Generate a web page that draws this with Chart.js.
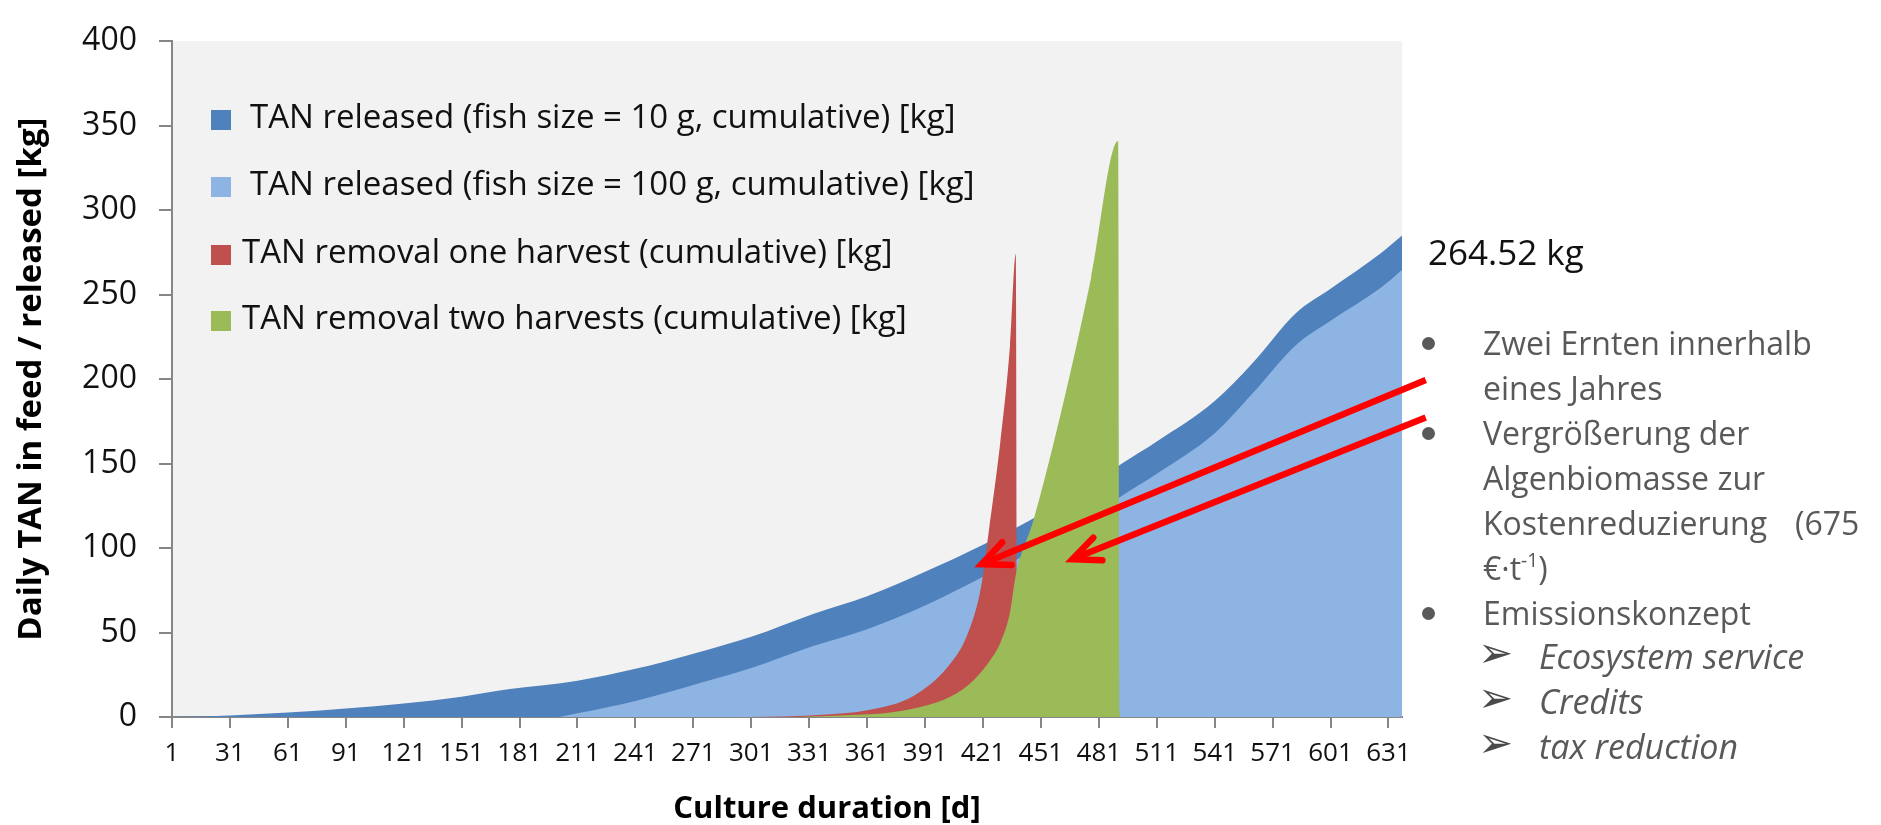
<!DOCTYPE html>
<html>
<head>
<meta charset="utf-8">
<title>TAN released and removed</title>
<script src="https://cdn.jsdelivr.net/npm/chart.js@4.4.1/dist/chart.umd.min.js"></script>
<style>
  html, body { margin: 0; padding: 0; background: #fff; }
  #wrap { position: relative; width: 1881px; height: 825px; overflow: hidden; font-family: 'Open Sans', sans-serif; }
  #chart { position: absolute; left: 0; top: 0; }
  .abs { position: absolute; white-space: pre; line-height: 1; }
  .swatch { position: absolute; width: 20px; height: 20px; }
  .legendText { font-size: 33px; color: #111; }
  .note { font-size: 32px; color: #595959; }
  .noteItalic { font-size: 34px; color: #595959; font-style: italic; }
  .dot { position: absolute; width: 13px; height: 13px; border-radius: 50%; background: #595959; }
  .arrowBullet { font-family: 'DejaVu Sans', sans-serif; font-size: 42px; color: #4a4a4a; }
  sup { font-size: 60%; vertical-align: 0.7em; line-height: 0; }
</style>
</head>
<body>
<div id="wrap">
  <canvas id="chart" width="1881" height="825"></canvas>
</div>
<script>
// Day of culture on the x axis, tick labels every 30 days
const xTickDays = [1, 31, 61, 91, 121, 151, 181, 211, 241, 271, 301, 331, 361, 391, 421, 451, 481, 511, 541, 571, 601, 631];
const lastDay = 638;

// TAN released, fish size = 10 g (cumulative) [kg]
const days10g = [1, 16, 31, 61, 91, 121, 151, 176, 211, 241, 271, 301, 333, 361, 391, 421, 451, 481, 493, 511, 541, 561, 583, 601, 627, 638];
const tan10g  = [0, 0.3, 0.9, 2.6, 5.0, 8.0, 12, 16.5, 21.5, 28.5, 37.5, 47.5, 61, 71.5, 86, 102, 120, 141, 150, 163, 187, 210, 239, 253.5, 274.5, 285];

// TAN released, fish size = 100 g (cumulative) [kg]
const days100g = [1, 199, 205, 213, 241, 271, 301, 333, 361, 391, 421, 451, 481, 493, 511, 541, 561, 583, 601, 627, 638];
const tan100g  = [0, 0, 0.8, 2.6, 9.5, 19, 29, 42, 52, 66, 83, 101, 122, 131, 144, 168, 192, 220, 234.5, 254, 264.52];

// TAN removal with one harvest (cumulative) [kg]
const daysOneHarvest = [300, 318, 340, 361, 385, 403, 413, 420, 424, 430, 435, 438, 439];
const tanOneHarvest  = [0, 0.3, 1.5, 4, 12.5, 30, 49, 77, 110, 163, 220, 274, 0];

// TAN removal with two harvests (cumulative) [kg]
const daysTwoHarvests = [325, 350, 375, 398, 410, 418, 425, 430, 435, 438, 447, 462, 477, 491, 492];
const tanTwoHarvests  = [0, 1, 3, 9, 16, 24, 34, 44, 62, 84, 116, 183, 260, 341, 0];

// Series names and fill colours
const seriesLabels = [
  'TAN released (fish size = 10 g, cumulative) [kg]',
  'TAN released (fish size = 100 g, cumulative) [kg]',
  'TAN removal one harvest (cumulative) [kg]',
  'TAN removal two harvests (cumulative) [kg]'
];
const seriesColors = ['#4F81BD', '#8DB4E2', '#C0504D', '#9BBB59'];

// Callout arrows: [day, kg] at the tail and at the head
const calloutArrows = [
  { from: [650.3, 199.5], to: [420.3, 90.5] },
  { from: [650.3, 177.3], to: [467.3, 93.4] }
];

const toPoints = (xs, ys) => xs.map((x, i) => ({ x: x, y: ys[i] }));

const seriesPoints = [
  toPoints(days10g, tan10g),
  toPoints(days100g, tan100g),
  toPoints(daysOneHarvest, tanOneHarvest),
  toPoints(daysTwoHarvests, tanTwoHarvests)
];

// Later series sit on top of earlier ones
const datasets = seriesPoints.map((pts, i) => ({
  label: seriesLabels[i],
  data: pts,
  backgroundColor: seriesColors[i],
  borderColor: seriesColors[i],
  borderWidth: 0,
  pointRadius: 0,
  fill: 'origin',
  cubicInterpolationMode: 'monotone',
  order: seriesPoints.length - i
}));

const plotBackground = {
  id: 'plotBackground',
  beforeDraw(chart) {
    const a = chart.chartArea, ctx = chart.ctx;
    ctx.save();
    ctx.fillStyle = '#F2F2F2';
    ctx.fillRect(a.left, a.top, a.right - a.left, a.bottom - a.top);
    ctx.restore();
  }
};

const arrowCallouts = {
  id: 'arrowCallouts',
  afterDraw(chart) {
    const xs = chart.scales.x, ys = chart.scales.y, ctx = chart.ctx;
    ctx.save();
    ctx.strokeStyle = '#FF0000';
    ctx.lineWidth = 6.5;
    calloutArrows.forEach(a => {
      const x0 = xs.getPixelForValue(a.from[0]), y0 = ys.getPixelForValue(a.from[1]);
      const x1 = xs.getPixelForValue(a.to[0]),   y1 = ys.getPixelForValue(a.to[1]);
      const ang = Math.atan2(y0 - y1, x0 - x1);
      ctx.lineCap = 'butt';
      ctx.beginPath();
      ctx.moveTo(x0, y0);
      ctx.lineTo(x1 + 3 * Math.cos(ang), y1 + 3 * Math.sin(ang));
      ctx.stroke();
      const head = 30, spread = 0.42;
      ctx.lineCap = 'round';
      ctx.lineJoin = 'miter';
      ctx.beginPath();
      ctx.moveTo(x1 + head * Math.cos(ang - spread), y1 + head * Math.sin(ang - spread));
      ctx.lineTo(x1, y1);
      ctx.lineTo(x1 + head * Math.cos(ang + spread), y1 + head * Math.sin(ang + spread));
      ctx.stroke();
    });
    ctx.restore();
  }
};

Chart.defaults.font.family = "'Open Sans', sans-serif";
Chart.defaults.color = '#111';

const chart = new Chart(document.getElementById('chart'), {
  type: 'line',
  data: { datasets: datasets },
  options: {
    responsive: false,
    animation: false,
    devicePixelRatio: 1,
    layout: { padding: { left: 0, right: 479, top: 24, bottom: 0 } },
    plugins: { legend: { display: false }, tooltip: { enabled: false } },
    scales: {
      x: {
        type: 'linear',
        min: 1,
        max: lastDay,
        afterBuildTicks: s => { s.ticks = xTickDays.map(v => ({ value: v })); },
        afterFit: s => { s.height = 108; },
        ticks: { font: { size: 26 }, color: '#111', padding: 10, maxRotation: 0, autoSkip: false, callback: v => String(v) },
        grid: { drawOnChartArea: false, tickLength: 11, color: '#868686', lineWidth: 2 },
        border: { color: '#868686', width: 2 }
      },
      y: {
        min: 0,
        max: 400,
        afterFit: s => { s.width = 172; },
        ticks: { stepSize: 50, font: { size: 32 }, color: '#111', padding: 22 },
        grid: { drawOnChartArea: false, tickLength: 13, color: '#868686', lineWidth: 2 },
        border: { color: '#868686', width: 2 },
        title: { display: true, text: 'Daily TAN in feed / released [kg]', font: { size: 33, weight: 'bold' }, color: '#000', padding: { top: 12, bottom: 0 } }
      }
    }
  },
  plugins: [plotBackground, arrowCallouts]
});

// HTML text layer: legend, axis title, value label and notes
const wrap = document.getElementById('wrap');
function addText(html, cls, left, top, extra) {
  const el = document.createElement('div');
  el.className = 'abs ' + cls;
  el.innerHTML = html;
  el.style.left = left + 'px';
  el.style.top = top + 'px';
  if (extra) Object.assign(el.style, extra);
  wrap.appendChild(el);
  return el;
}

const legendRows = [110, 177, 245, 311];
const legendTextLeft = [250, 250, 242, 242];
chart.data.datasets.forEach((ds, i) => {
  const sw = document.createElement('div');
  sw.className = 'swatch';
  sw.style.left = '211px';
  sw.style.top = legendRows[i] + 'px';
  sw.style.background = ds.backgroundColor;
  wrap.appendChild(sw);
  addText(ds.label, 'legendText', legendTextLeft[i], legendRows[i] - 11);
});

addText('Culture duration [d]', '', 827, 791, { fontSize: '31px', fontWeight: '700', color: '#000', transform: 'translateX(-50%)' });

addText(tan100g[tan100g.length - 1].toFixed(2) + ' kg', '', 1428, 234, { fontSize: '35px', color: '#111' });

const noteLines = [
  { t: 'Zwei Ernten innerhalb', y: 327, dot: true },
  { t: 'eines Jahres', y: 372 },
  { t: 'Vergrößerung der', y: 417, dot: true },
  { t: 'Algenbiomasse zur', y: 462 },
  { t: 'Kostenreduzierung', y: 507 },
  { t: '€·t<sup>-1</sup>)', y: 552 },
  { t: 'Emissionskonzept', y: 597, dot: true }
];
noteLines.forEach(l => {
  addText(l.t, 'note', 1483, l.y);
  if (l.dot) {
    const d = document.createElement('div');
    d.className = 'dot';
    d.style.left = '1422px';
    d.style.top = (l.y + 10) + 'px';
    wrap.appendChild(d);
  }
});
addText('(675', 'note', 1795, 507);

const subLines = [
  { t: 'Ecosystem service', y: 639 },
  { t: 'Credits', y: 684 },
  { t: 'tax reduction', y: 729 }
];
subLines.forEach(l => {
  addText('\u27A2', 'arrowBullet', 1478, l.y - 7);
  addText(l.t, 'noteItalic', 1539, l.y);
});
</script>
</body>
</html>
